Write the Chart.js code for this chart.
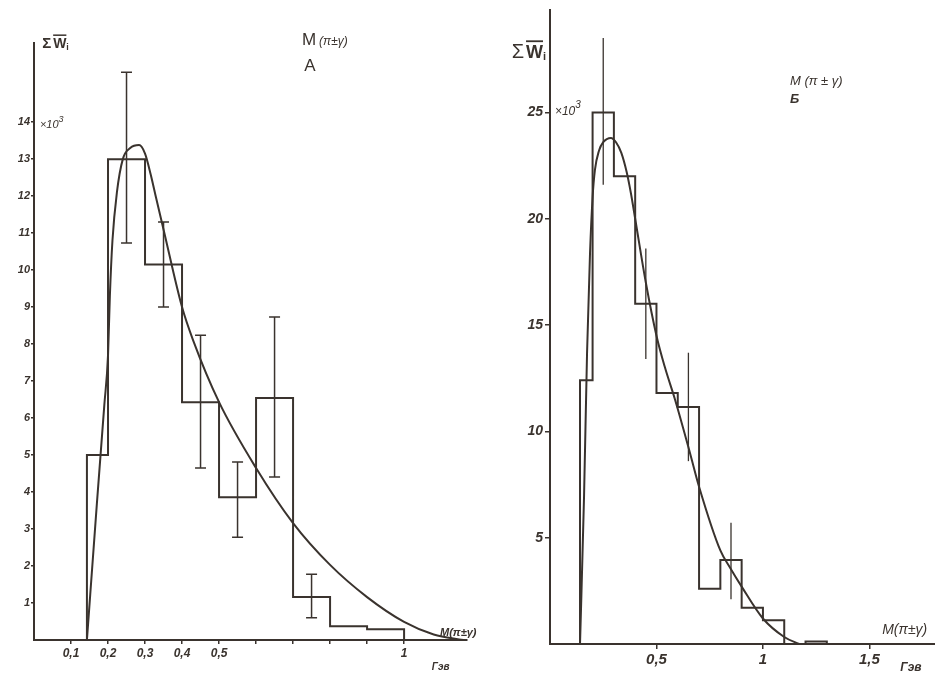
<!DOCTYPE html>
<html>
<head>
<meta charset="utf-8">
<script src="https://cdn.jsdelivr.net/npm/chart.js@4.4.1/dist/chart.umd.min.js"></script>
<style>
    html, body { margin: 0; padding: 0; background: #ffffff; }
    #wrap { position: relative; width: 935px; height: 674px; overflow: hidden; background: #ffffff; }
    #chartA { position: absolute; left: 0; top: 0; }
    #chartB { position: absolute; left: 470px; top: 0; }
</style>
</head>
<body>
<div id="wrap">
    <canvas id="chartA" width="545" height="674" style="width:545px;height:674px"></canvas>
    <canvas id="chartB" width="465" height="674" style="width:465px;height:674px"></canvas>
</div>
<script>
// Panel A: M(pi+-gamma), histogram in units of 10^3
const edgesA = [0.143, 0.2, 0.3, 0.4, 0.5, 0.6, 0.7, 0.8, 0.9, 1.0];
const countsA = [5.0, 13.0, 10.15, 6.43, 3.86, 6.54, 1.16, 0.37, 0.29];
const errXA = [0.25, 0.35, 0.45, 0.55, 0.65, 0.75];
const errLoA = [10.73, 9.0, 4.65, 2.78, 4.41, 0.6];
const errHiA = [15.35, 11.3, 8.24, 4.81, 8.73, 1.78];
const fitXA = [0.143, 0.17, 0.19, 0.2, 0.205, 0.212, 0.224, 0.24, 0.26, 0.284, 0.3, 0.315, 0.33, 0.35, 0.4, 0.43, 0.5, 0.6, 0.7, 0.8, 0.9, 1.0, 1.08, 1.16];
const fitYA = [0, 3.7, 6.35, 7.7, 9.3, 10.8, 12.1, 13.0, 13.3, 13.38, 13.15, 12.6, 11.95, 11.1, 9.0, 8.1, 6.43, 4.65, 3.16, 2.03, 1.16, 0.49, 0.15, 0];
const yTicksA = [1, 2, 3, 4, 5, 6, 7, 8, 9, 10, 11, 12, 13, 14];
const xTicksA = [0.1, 0.2, 0.3, 0.4, 0.5, 0.6, 0.7, 0.8, 0.9, 1.0];
const xLabelsA = ['0,1', '0,2', '0,3', '0,4', '0,5', '', '', '', '', '1'];

// Panel B
const edgesB = [0.141, 0.2, 0.3, 0.4, 0.5, 0.6, 0.7, 0.8, 0.9, 1.0, 1.1, 1.2, 1.3];
const countsB = [12.4, 25.0, 22.0, 16.0, 11.8, 11.15, 2.6, 3.95, 1.7, 1.12, 0, 0.12];
const errXB = [0.25, 0.45, 0.65, 0.85];
const errLoB = [21.6, 13.4, 8.6, 2.1];
const errHiB = [28.5, 18.6, 13.7, 5.7];
const fitXB = [0.141, 0.16, 0.174, 0.188, 0.2, 0.211, 0.23, 0.25, 0.286, 0.31, 0.335, 0.36, 0.38, 0.4, 0.45, 0.5, 0.54, 0.587, 0.657, 0.7, 0.8, 0.845, 0.9, 1.0, 1.1, 1.17];
const fitYB = [0, 7, 13.7, 18.4, 21, 22.3, 23.2, 23.6, 23.8, 23.6, 23.1, 22.2, 21.2, 20.0, 17.0, 14.5, 13.0, 11.5, 9.0, 7.4, 4.4, 3.6, 2.7, 1.2, 0.33, 0];
const yTicksB = [5, 10, 15, 20, 25];
const xTicksB = [0.5, 1, 1.5];
const xLabelsB = ['0,5', '1', '1,5'];

const INK = '#3a332e';
const FONT = '"Liberation Sans", "DejaVu Sans", sans-serif';

// histogram outline: corner points of each bin
function histPoints(edges, counts) {
    const pts = [{ x: edges[0], y: 0 }];
    counts.forEach((c, i) => {
        pts.push({ x: edges[i], y: c });
        pts.push({ x: edges[i + 1], y: c });
    });
    pts.push({ x: edges[edges.length - 1], y: 0 });
    return pts;
}

function curvePoints(xs, ys) {
    return xs.map((x, i) => ({ x: x, y: ys[i] }));
}

// error bars drawn through the chart scales
function errorBars(xs, lo, hi, cap, width) {
    return {
        id: 'errorBars',
        afterDatasetsDraw(chart) {
            const { ctx, scales: { x, y } } = chart;
            ctx.save();
            ctx.strokeStyle = INK;
            ctx.lineWidth = width;
            xs.forEach((v, i) => {
                const px = x.getPixelForValue(v);
                const top = y.getPixelForValue(hi[i]);
                const bot = y.getPixelForValue(lo[i]);
                ctx.beginPath();
                ctx.moveTo(px, top);
                ctx.lineTo(px, bot);
                if (cap) {
                    ctx.moveTo(px - cap, top); ctx.lineTo(px + cap, top);
                    ctx.moveTo(px - cap, bot); ctx.lineTo(px + cap, bot);
                }
                ctx.stroke();
            });
            ctx.restore();
        }
    };
}

// free text placed at data coordinates
function textLabels(items) {
    return {
        id: 'textLabels',
        afterDraw(chart) {
            const { ctx, scales: { x, y } } = chart;
            ctx.save();
            ctx.fillStyle = INK;
            ctx.strokeStyle = INK;
            ctx.textBaseline = 'alphabetic';
            ctx.textAlign = 'left';
            items.forEach(it => {
                let px = x.getPixelForValue(it.x);
                const py = y.getPixelForValue(it.y);
                it.runs.forEach(r => {
                    ctx.font = r.font;
                    const w = ctx.measureText(r.text).width;
                    ctx.fillText(r.text, px, py + (r.dy || 0));
                    if (r.over) {
                        ctx.lineWidth = r.over;
                        ctx.beginPath();
                        ctx.moveTo(px, py - r.overAt);
                        ctx.lineTo(px + w, py - r.overAt);
                        ctx.stroke();
                    }
                    px += w + (r.gap || 0);
                });
            });
            ctx.restore();
        }
    };
}

function axisX(max, ticks, labels, fontSize, height, tickLen, pad) {
    return {
        type: 'linear',
        min: 0,
        max: max,
        afterBuildTicks: s => { s.ticks = ticks.map(v => ({ value: v })); },
        afterFit: s => { s.height = height; },
        border: { color: INK, width: 2 },
        grid: { drawOnChartArea: false, drawTicks: true, tickLength: tickLen, color: INK, lineWidth: 1.5 },
        ticks: {
            color: INK,
            padding: pad,
            maxRotation: 0,
            autoSkip: false,
            font: { family: FONT, size: fontSize, style: 'italic', weight: 'bold' },
            callback: (v, i) => labels[i]
        }
    };
}

function axisY(max, ticks, fontSize, width, tickLen, pad) {
    return {
        type: 'linear',
        min: 0,
        max: max,
        afterBuildTicks: s => { s.ticks = ticks.map(v => ({ value: v })); },
        afterFit: s => { s.width = width; },
        border: { color: INK, width: 2 },
        grid: { drawOnChartArea: false, drawTicks: true, tickLength: tickLen, color: INK, lineWidth: 1.5 },
        ticks: {
            color: INK,
            padding: pad,
            autoSkip: false,
            font: { family: FONT, size: fontSize, style: 'italic', weight: 'bold' },
            callback: v => String(v)
        }
    };
}

function buildChart(canvasId, cfg) {
    return new Chart(document.getElementById(canvasId), {
        type: 'scatter',
        data: {
            datasets: [
                {
                    data: histPoints(cfg.edges, cfg.counts),
                    showLine: true,
                    borderColor: INK,
                    borderWidth: 2,
                    pointRadius: 0,
                    tension: 0
                },
                {
                    data: curvePoints(cfg.fitX, cfg.fitY),
                    showLine: true,
                    borderColor: INK,
                    borderWidth: 2,
                    pointRadius: 0,
                    cubicInterpolationMode: 'monotone'
                }
            ]
        },
        options: {
            responsive: false,
            animation: false,
            layout: { padding: cfg.padding },
            plugins: { legend: { display: false }, tooltip: { enabled: false } },
            scales: { x: cfg.x, y: cfg.y }
        },
        plugins: [errorBars(cfg.errX, cfg.errLo, cfg.errHi, cfg.cap, cfg.errWidth), textLabels(cfg.labels)]
    });
}

const it = (size, extra) => `italic ${extra || ''} ${size}px ${FONT}`;

buildChart('chartA', {
    edges: edgesA, counts: countsA,
    fitX: fitXA, fitY: fitYA,
    errX: errXA, errLo: errLoA, errHi: errHiA, cap: 5.5, errWidth: 1.5,
    padding: { left: 0, top: 43, right: 78, bottom: 0 },
    x: axisX(1.17, xTicksA, xLabelsA, 12, 34, 4, 2),
    y: axisY(16.14, yTicksA, 11, 34, 3, 1),
    labels: [
        { x: 0.022, y: 16.0, runs: [
            { text: 'Σ', font: `bold 15px ${FONT}`, gap: 2 },
            { text: 'W', font: `bold 14px ${FONT}`, over: 1.5, overAt: 13 },
            { text: 'i', font: `bold 9px ${FONT}`, dy: 2 }
        ] },
        { x: 0.724, y: 16.08, runs: [
            { text: 'M', font: `17px ${FONT}`, gap: 3 },
            { text: '(π±γ)', font: it(12) }
        ] },
        { x: 0.73, y: 15.38, runs: [{ text: 'A', font: `17px ${FONT}` }] },
        { x: 0.016, y: 13.85, runs: [
            { text: '×10', font: it(11) },
            { text: '3', font: it(9), dy: -6 }
        ] },
        { x: 1.097, y: 0.1, runs: [{ text: 'M(π±γ)', font: it(11, 'bold') }] },
        { x: 1.075, y: -0.8, runs: [{ text: 'Гэв', font: it(10, 'bold') }] }
    ]
});

buildChart('chartB', {
    edges: edgesB, counts: countsB,
    fitX: fitXB, fitY: fitYB,
    errX: errXB, errLo: errLoB, errHi: errHiB, cap: 0, errWidth: 1.3,
    padding: { left: 0, top: 10, right: 0, bottom: 0 },
    x: axisX(1.808, xTicksB, xLabelsB, 15, 30, 5, 2),
    y: axisY(29.8, yTicksB, 14, 80, 5, 2),
    labels: [
        { x: -0.18, y: 27.55, runs: [
            { text: 'Σ', font: `20px ${FONT}`, gap: 2 },
            { text: 'W', font: `bold 18px ${FONT}`, over: 1.8, overAt: 17 },
            { text: 'i', font: `bold 11px ${FONT}`, dy: 2 }
        ] },
        { x: 1.127, y: 26.27, runs: [{ text: 'M (π ± γ)', font: it(13) }] },
        { x: 1.127, y: 25.45, runs: [{ text: 'Б', font: it(13, 'bold') }] },
        { x: 0.023, y: 24.86, runs: [
            { text: '×10', font: it(12) },
            { text: '3', font: it(10), dy: -7 }
        ] },
        { x: 1.56, y: 0.45, runs: [{ text: 'M(π±γ)', font: it(14) }] },
        { x: 1.645, y: -1.25, runs: [{ text: 'Гэв', font: it(12, 'bold') }] }
    ]
});
</script>
</body>
</html>
